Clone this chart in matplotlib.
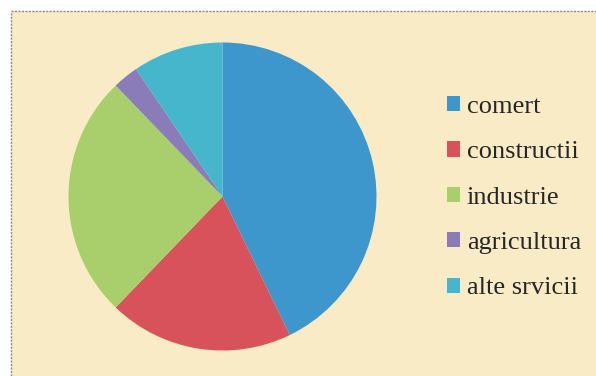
import matplotlib
matplotlib.use("Agg")
import matplotlib.pyplot as plt
from matplotlib.patches import Rectangle
from matplotlib.lines import Line2D

# share of firms by sector (%)
sectors = ['comert', 'constructii', 'industrie', 'agricultura', 'alte srvicii']
shares = [42.8, 19.4, 25.6, 2.7, 9.5]
colors = ['#3e97cc', '#d8525c', '#a8cf6b', '#8a7cb9', '#46b6cd']

W, H = 596, 376
fig = plt.figure(figsize=(W / 100, H / 100), dpi=100)
fig.patch.set_facecolor('white')

# paper-coloured chart area with a dotted grey border on top and left
x0, y0 = 11 / W, 1 - 11 / H
fig.patches.append(Rectangle((x0, 0), 1 - x0, y0, transform=fig.transFigure,
                             facecolor='#f8ebc6', edgecolor='none', zorder=-10))
fig.lines.append(Line2D([x0, 1], [y0, y0], transform=fig.transFigure,
                        color='#8a8a8a', lw=1.0, ls=(0, (1.5, 1)), zorder=-5))
fig.lines.append(Line2D([x0, x0], [0, y0], transform=fig.transFigure,
                        color='#8a8a8a', lw=1.0, ls=(0, (1.5, 1)), zorder=-5))

cx, cy, r = 222.5, 196.5, 154
ax = fig.add_axes([(cx - r) / W, (H - cy - r) / H, 2 * r / W, 2 * r / H])
wedges, _ = ax.pie(shares, colors=colors, startangle=90, counterclock=False,
                   radius=1, wedgeprops=dict(linewidth=0))
ax.set_xlim(-1, 1)
ax.set_ylim(-1, 1)
ax.set_aspect('equal')
ax.axis('off')

plt.rcParams['font.family'] = ['Liberation Serif', 'DejaVu Serif']
leg = ax.legend(wedges, sectors, loc='upper left',
                bbox_to_anchor=(447 / W, 1 - 96 / H),
                bbox_transform=fig.transFigure, frameon=False,
                fontsize=19, handlelength=0.5, handleheight=0.5,
                handletextpad=0.25, labelspacing=0.885, borderpad=0,
                borderaxespad=0)
for t in leg.get_texts():
    t.set_color('#262626')
    t.set_family(['Liberation Serif', 'DejaVu Serif'])

fig.savefig('out.png', dpi=100)
